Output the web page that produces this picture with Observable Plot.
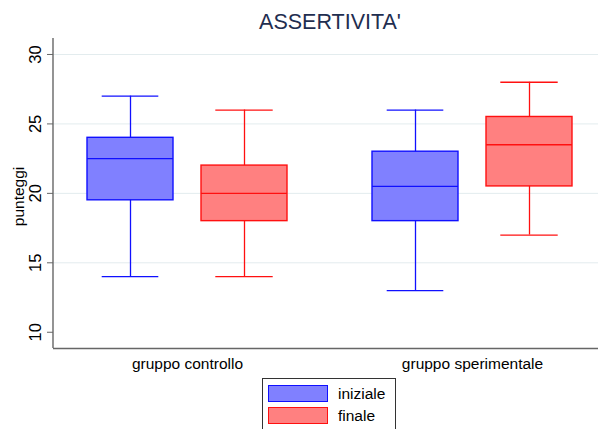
<!DOCTYPE html>
<html>
<head>
<meta charset="utf-8">
<script src="https://cdn.jsdelivr.net/npm/d3@7"></script>
<script src="https://cdn.jsdelivr.net/npm/@observablehq/plot@0.6"></script>
<style>
  html, body { margin: 0; padding: 0; background: #fff; }
  #wrap { position: relative; width: 598px; height: 429px; overflow: hidden; font-family: "Liberation Sans", Arial, Helvetica, sans-serif; }
  #title { height: 25px; padding-top: 11px; padding-left: 62px; font-size: 21.5px; line-height: 22px; text-align: center; color: #1f2e50; }
  #chart svg { display: block; }
  #legend { margin-top: 3px; margin-left: 262px; width: 134px; box-sizing: border-box; border: 1px solid #333; padding: 6px 0 6px 0; }
  .row { display: flex; align-items: center; height: 17px; margin-bottom: 5px; }
  .sw { width: 60px; height: 17px; box-sizing: border-box; border: 1.5px solid; margin-left: 5px; }
  .lab { margin-left: 10px; font-size: 15.5px; color: #000; }
</style>
</head>
<body>
<div id="wrap">
  <div id="title">ASSERTIVITA'</div>
  <div id="chart"></div>
  <div id="legend"></div>
</div>
<script>
// ---- data ----
const groups = ["gruppo controllo", "gruppo sperimentale"];
const series = ["iniziale", "finale"];
const iniziale_min = [14, 13];
const iniziale_q1  = [19.5, 18];
const iniziale_med = [22.5, 20.5];
const iniziale_q3  = [24, 23];
const iniziale_max = [27, 26];
const finale_min = [14, 17];
const finale_q1  = [18, 20.5];
const finale_med = [20, 23.5];
const finale_q3  = [22, 25.5];
const finale_max = [26, 28];
const yTicks = [10, 15, 20, 25, 30];
const gridTicks = [15, 20, 25, 30];
const yLabel = "punteggi";

const stats = {
  iniziale: {min: iniziale_min, q1: iniziale_q1, med: iniziale_med, q3: iniziale_q3, max: iniziale_max},
  finale:   {min: finale_min,   q1: finale_q1,   med: finale_med,   q3: finale_q3,   max: finale_max}
};

const style = {
  iniziale: {fill: "#8080ff", stroke: "#1010ff", box: {insetRight: 114}, cap: {insetLeft: 14.7, insetRight: 128.7}, dx: -57},
  finale:   {fill: "#ff8080", stroke: "#ff1010", box: {insetLeft: 114},  cap: {insetLeft: 128.3, insetRight: 14.3}, dx: 57}
};

const marks = [
  Plot.gridY(gridTicks, {stroke: "#e3ecee", strokeOpacity: 1, strokeWidth: 1})
];

for (const s of series) {
  const st = stats[s];
  const rows = groups.map((g, i) => ({group: g, min: st.min[i], q1: st.q1[i], med: st.med[i], q3: st.q3[i], max: st.max[i]}));
  const sty = style[s];
  marks.push(
    Plot.ruleX(rows, {x: "group", y1: "min", y2: "max", stroke: sty.stroke, strokeWidth: 1.3, dx: sty.dx}),
    Plot.tickY(rows, {x: "group", y: "min", stroke: sty.stroke, strokeWidth: 1.3, ...sty.cap}),
    Plot.tickY(rows, {x: "group", y: "max", stroke: sty.stroke, strokeWidth: 1.3, ...sty.cap}),
    Plot.barY(rows, {x: "group", y1: "q1", y2: "q3", fill: sty.fill, stroke: sty.stroke, strokeWidth: 1.4, ...sty.box}),
    Plot.tickY(rows, {x: "group", y: "med", stroke: sty.stroke, strokeWidth: 1.4, ...sty.box})
  );
}

marks.push(
  Plot.ruleY([8.83], {stroke: "#666", strokeWidth: 1.4}),
  Plot.axisY({ticks: yTicks, tickRotate: -90, tickSize: 6, tickPadding: 7, fontSize: 16.5, stroke: "#666", fill: "#000", label: null}),
  Plot.axisX({tickSize: 0, tickPadding: 9, fontSize: 15.5, fill: "#000", label: null}),
  Plot.text([yLabel], {text: d => d, frameAnchor: "left", dx: -34, dy: 3, rotate: -90, textAnchor: "middle", lineAnchor: "middle", fontSize: 15.5, fill: "#000"})
);

const plot = Plot.plot({
  width: 598,
  height: 339,
  marginTop: 2,
  marginBottom: 27,
  marginLeft: 53,
  marginRight: 0,
  style: {fontFamily: '"Liberation Sans", Arial, Helvetica, sans-serif', background: "#fff", color: "#000"},
  x: {domain: groups, range: [86, 571.6], paddingInner: 0.3, paddingOuter: 0, axis: null},
  y: {domain: [8.83, 31.15], axis: null},
  marks
});

// left axis line, placed with the library's y scale
const yr = plot.scale("y").range;
d3.select(plot).append("line")
  .attr("x1", 53).attr("x2", 53)
  .attr("y1", Math.min(...yr)).attr("y2", Math.max(...yr))
  .attr("stroke", "#666").attr("stroke-width", 1.4);

document.getElementById("chart").appendChild(plot);

// legend
const lg = document.getElementById("legend");
for (const s of series) {
  const row = document.createElement("div");
  row.className = "row";
  const sw = document.createElement("div");
  sw.className = "sw";
  sw.style.background = style[s].fill;
  sw.style.borderColor = style[s].stroke;
  const lab = document.createElement("span");
  lab.className = "lab";
  lab.textContent = s;
  row.appendChild(sw);
  row.appendChild(lab);
  lg.appendChild(row);
}
</script>
</body>
</html>
